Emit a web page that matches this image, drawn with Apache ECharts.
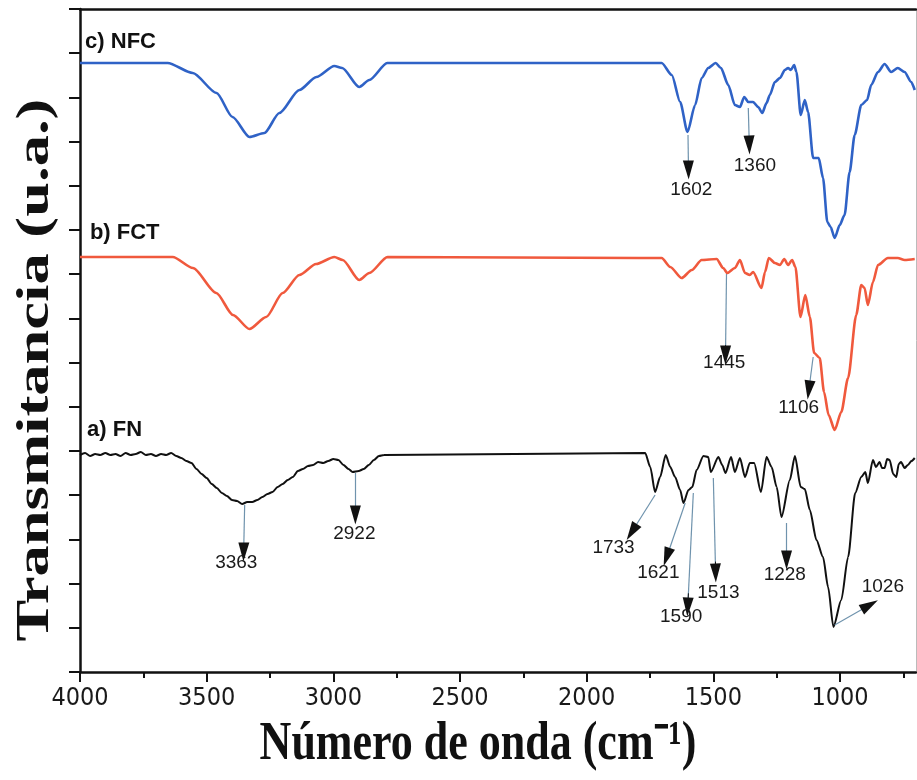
<!DOCTYPE html>
<html>
<head>
<meta charset="utf-8">
<script src="https://cdn.jsdelivr.net/npm/echarts@6/dist/echarts.min.js"></script>
<style>html,body{margin:0;padding:0;background:#fff}#c{width:917px;height:780px}</style>
</head>
<body>
<div id="c"></div>
<script>
// ---- data (wavenumber in cm-1, transmittance in arbitrary offset units) ----
const nfcWn = [4000,3654,3555,3461,3398,3331,3272,3213,3134,3067,2996,2965,2898,2858,2787,1704,1664,1631,1602,1572,1546,1520,1491,1470,1441,1415,1395,1378,1362,1343,1323,1307,1290,1277,1257,1237,1218,1205,1194,1181,1172,1155,1139,1126,1106,1084,1067,1050,1037,1021,1001,982,962,942,916,893,877,850,824,798,772,745,719,705];
const nfcT  = [609,609,599,579,555,535,539,559,582,595,606,604,585,592,609,609,597,570,540,567,594,604,609,604,587,567,565,575,570,570,565,559,569,577,590,594,602,604,602,607,600,557,572,560,514,514,494,450,445,434,447,457,500,537,567,572,587,600,608,600,604,600,590,582];

const fctWn = [4000,3634,3554,3462,3396,3331,3265,3200,3134,3068,2996,2963,2898,2858,2786,1795,1704,1670,1625,1585,1546,1487,1461,1445,1415,1395,1375,1356,1343,1310,1296,1281,1257,1237,1220,1205,1189,1176,1156,1137,1119,1102,1080,1063,1045,1021,995,968,936,916,903,890,870,850,811,772,745,705];
const fctT  = [415,415,404,379,357,343,355,379,397,408,415,412,392,399,415,414,414,405,394,402,412,413,404,399,404,412,399,397,400,384,400,414,409,407,413,407,412,405,355,377,355,319,314,280,257,242,260,294,357,387,384,367,390,407,414,414,412,413];

const fnWn = [4000,3980,3960,3940,3920,3900,3880,3860,3840,3820,3800,3780,3760,3740,3720,3700,3680,3660,3640,3620,3600,3580,3560,3540,3520,3500,3480,3460,3440,3420,3400,3380,3360,3340,3320,3300,3280,3260,3240,3220,3200,3180,3160,3140,3120,3100,3080,3060,3040,3020,3000,2980,2960,2940,2924,2900,2880,2860,2840,2820,2800,
  1769,1749,1730,1710,1688,1670,1651,1631,1618,1598,1583,1566,1539,1520,1510,1480,1465,1452,1430,1415,1395,1375,1356,1339,1312,1290,1270,1250,1231,1198,1178,1155,1139,1119,1093,1067,1047,1026,995,968,940,916,900,890,870,858,844,834,824,814,804,790,778,768,759,745,732,718,705];
const fnT  = [217,219,216,218,217,219,217,218,216,219,217,218,220,217,218,216,218,217,219,216,214,211,209,203,198,194,188,184,179,176,172,171,168,170,170,172,175,178,180,185,188,192,195,201,203,206,207,210,209,211,213,212,207,203,200,201,203,207,212,216,217,
  219,205,180,195,217,205,195,182,169,182,185,202,216,215,200,215,207,199,215,200,214,195,209,209,180,215,205,185,155,192,216,185,183,162,132,115,85,45,72,115,179,195,200,189,212,205,210,204,204,213,212,198,195,208,210,204,207,211,214];

const xTicks = [4000,3500,3000,2500,2000,1500,1000];
const xMinorTicks = [3750,3250,2750,2250,1750,1250,750];

// series names and their label positions [wn, T]
const seriesNames = ['c) NFC','b) FCT','a) FN'];
const seriesLabelPos = [[3980,630],[3961,439],[3972,242]];

// peak annotations: text, arrow start [wn,T], arrow tip [wn,T], text position [wn,T]
const nfcPeaks = [
  ['1602',[1600,537],[1598,502],[1587,482]],
  ['1360',[1362,564],[1358,527],[1336,506]]
];
const fctPeaks = [
  ['1445',[1448,398],[1452,317],[1457,309]],
  ['1106',[1106,315],[1123,282],[1163,264]]
];
const fnPeaks = [
  ['3363',[3350,167],[3354,120],[3383,109]],
  ['2922',[2913,199],[2913,157],[2917,138]],
  ['1733',[1730,177],[1822,140],[1894,124]],
  ['1621',[1611,169],[1684,115],[1717,99]],
  ['1590',[1579,179],[1601,65],[1627,55]],
  ['1513',[1500,194],[1491,99],[1480,79]],
  ['1228',[1211,149],[1211,112],[1218,97]],
  ['1026',[1021,47],[883,67],[831,85]]
];

const zip = (a,b)=>a.map((v,i)=>[v,b[i]]);

function arrowLines(peaks){
  const out=[];
  peaks.forEach(p=>{
    const a=p[1], b=p[2];
    const c=[b[0]+(a[0]-b[0])*0.12, b[1]+(a[1]-b[1])*0.12];
    out.push([{coord:a,symbol:'none',lineStyle:{color:'#6f93ad',width:1.2,type:'solid'}},{coord:b,symbol:'none'}]);
    out.push([{coord:c,symbol:'none',lineStyle:{color:'#111',width:1,type:'solid'}},{coord:b,symbol:'triangle',symbolSize:[11,19]}]);
  });
  return out;
}
function peakTexts(peaks){
  return peaks.map(p=>({name:p[0],coord:p[3]}));
}

function specSeries(name, wn, t, color, width, peaks, labelPos){
  return {
    name, type:'line', data:zip(wn,t), showSymbol:false, smooth:0.25, smoothMonotone:'x',
    lineStyle:{color,width}, itemStyle:{color}, silent:true, z:3,
    markLine:{silent:true, animation:false, label:{show:false}, symbol:['none','triangle'], symbolSize:[11,19],
      lineStyle:{type:'solid'}, data:arrowLines(peaks)},
    markPoint:{silent:true, animation:false, symbol:'circle', symbolSize:1, itemStyle:{color:'rgba(0,0,0,0)'},
      label:{show:true, position:'inside', formatter:'{b}', color:'#1a1a1a', fontSize:19, fontFamily:'Liberation Sans, Arial, sans-serif'},
      data:peakTexts(peaks).concat([{name:name, coord:labelPos,
        label:{align:'left', fontWeight:'bold', fontSize:22, color:'#111', fontFamily:'Liberation Sans, Arial, sans-serif'}}])}
  };
}

const chart = echarts.init(document.getElementById('c'), null, {renderer:'canvas'});
chart.setOption({
  animation:false,
  backgroundColor:'#fff',
  grid:{left:80, right:1, top:9, bottom:108, containLabel:false},
  xAxis:[
    {type:'value', min:700, max:4000, inverse:true, position:'bottom',
     axisLine:{show:true,onZero:false,lineStyle:{color:'#111',width:2.5}},
     axisTick:{show:true,length:10,inside:false,customValues:xTicks,lineStyle:{color:'#111',width:2}},
     axisLabel:{show:true,customValues:xTicks,margin:14,color:'#1a1a1a',fontSize:25,
       formatter:function(v){return String(v);},
       fontFamily:"'Liberation Sans Narrow','DejaVu Sans Condensed','Arial Narrow',sans-serif"},
     splitLine:{show:false}},
    {type:'value', min:700, max:4000, inverse:true, position:'bottom',
     axisLine:{show:false}, axisLabel:{show:false}, splitLine:{show:false},
     axisTick:{show:true,length:6,inside:false,customValues:xMinorTicks,lineStyle:{color:'#111',width:2}}},
    {type:'value', min:700, max:4000, inverse:true, position:'top',
     axisLine:{show:true,onZero:false,lineStyle:{color:'#111',width:2.5}},
     axisTick:{show:false}, axisLabel:{show:false}, splitLine:{show:false}}
  ],
  yAxis:[
    {type:'value', min:0, max:663, interval:44.2, position:'left',
     axisLine:{show:true,onZero:false,lineStyle:{color:'#111',width:2.5}},
     axisTick:{show:true,length:11,inside:false,lineStyle:{color:'#111',width:2}},
     axisLabel:{show:false}, splitLine:{show:false}},
    {type:'value', min:0, max:663, position:'right',
     axisLine:{show:true,onZero:false,lineStyle:{color:'#bbb',width:1}},
     axisTick:{show:false}, axisLabel:{show:false}, splitLine:{show:false}}
  ],
  graphic:[
    {type:'text', x:478, y:745, scaleY:1.25, z:10,
     style:{text:'Número de onda (cm⁻¹)', font:"bold 44px 'Liberation Serif','Times New Roman',serif",
       fill:'#111', textAlign:'center', textVerticalAlign:'middle'}},
    {type:'text', x:36, y:370, rotation:Math.PI/2, scaleX:1.36, z:10,
     style:{text:'Transmitancia (u.a.)', font:"bold 46px 'Liberation Serif','Times New Roman',serif",
       fill:'#111', textAlign:'center', textVerticalAlign:'middle'}}
  ],
  series:[
    specSeries(seriesNames[0], nfcWn, nfcT, '#2f62c6', 2.6, nfcPeaks, seriesLabelPos[0]),
    specSeries(seriesNames[1], fctWn, fctT, '#f0593d', 2.6, fctPeaks, seriesLabelPos[1]),
    specSeries(seriesNames[2], fnWn, fnT, '#111111', 2.0, fnPeaks, seriesLabelPos[2])
  ]
});
</script>
</body>
</html>
